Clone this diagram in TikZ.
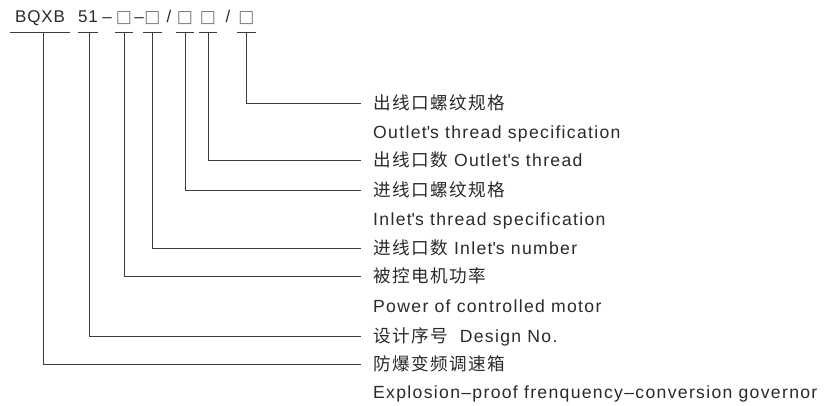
\documentclass[tikz,border=0pt]{standalone}
\usepackage{fontspec}
\setmainfont{Liberation Sans}[LetterSpace=7.5]
\newfontfamily\cjkfont{Noto Sans CJK SC}[LetterSpace=8]
\newfontfamily\codefont{Liberation Sans}[LetterSpace=5]
\newfontfamily\boxfont{DejaVu Sans}
\newcommand{\zh}[1]{{\cjkfont #1}}
\definecolor{ink}{HTML}{2A2A2A}
\definecolor{rulegray}{HTML}{3C3C3C}

\tikzset{
  part/.style={anchor=south, inner sep=0pt, minimum width=18pt, text height=11pt, text depth=9.5pt,
    font=\codefont\fontsize{17pt}{18pt}\selectfont, text=ink},
  boxpart/.style={part, font=\boxfont\fontsize{17pt}{18pt}\selectfont, text=black!55},
  sepmark/.style={anchor=base, inner sep=0pt, font=\codefont\fontsize{17pt}{18pt}\selectfont, text=ink},
  lab/.style={anchor=west, inner sep=0pt, text height=13pt, text depth=0pt,
    font=\fontsize{17.6pt}{20pt}\selectfont, text=ink},
  rule/.style={draw=rulegray, line width=0.9pt}
}

\begin{document}
\begin{tikzpicture}[x=1pt, y=-1pt]
  \useasboundingbox (0,0) rectangle (827,406);

  % Draw the type code
  \node[part, minimum width=60pt] (bqxb) at (40,32) {BQXB};
  \node[part] (d51) at (88,32) {51};
  \node[sepmark] (s1) at (107,22.5) {–};
  \node[boxpart] (b1) at (124,32) {□};
  \node[sepmark] (s2) at (139,22.5) {–};
  \node[boxpart] (b2) at (152.5,32) {□};
  \node[sepmark] (s3) at (169,22.5) {/};
  \node[boxpart] (b3) at (185,32) {□};
  \node[boxpart] (b4) at (208,32) {□};
  \node[sepmark] (s4) at (228,22.5) {/};
  \node[boxpart] (b5) at (246.5,32) {□};

  % Draw the underlines
  \draw[rule] (bqxb.south west) -- (bqxb.south east);
  \draw[rule] (d51.south west) -- (d51.south east);
  \draw[rule] (b1.south west) -- (b1.south east);
  \draw[rule] (b2.south west) -- (b2.south east);
  \draw[rule] (b3.south west) -- (b3.south east);
  \draw[rule] (b4.south west) -- (b4.south east);
  \draw[rule] (b5.south west) -- (b5.south east);

  % Draw the labels
  \node[lab] (l1) at (373,103) {\zh{出线口螺纹规格}};
  \node[lab] (l2) at (373,132) {Outlet\textquotesingle s thread specification};
  \node[lab] (l3) at (373,160) {\zh{出线口数} Outlet\textquotesingle s thread};
  \node[lab] (l4) at (373,190) {\zh{进线口螺纹规格}};
  \node[lab] (l5) at (373,219) {Inlet\textquotesingle s thread specification};
  \node[lab] (l6) at (373,248) {\zh{进线口数} Inlet\textquotesingle s number};
  \node[lab] (l7) at (373,276) {\zh{被控电机功率}};
  \node[lab] (l8) at (373,306) {Power of controlled motor};
  \node[lab] (l9) at (373,336) {\zh{设计序号}\hspace{12pt}Design No.};
  \node[lab] (l10) at (373,364) {\zh{防爆变频调速箱}};
  \node[lab] (l11) at (373,392) {Explosion–proof frenquency–conversion governor};

  % Draw the leaders
  \draw[rule] (b5.south) |- ([xshift=-12pt]l1.west);
  \draw[rule] (b4.south) |- ([xshift=-12pt]l3.west);
  \draw[rule] (b3.south) |- ([xshift=-12pt]l4.west);
  \draw[rule] (b2.south) |- ([xshift=-12pt]l6.west);
  \draw[rule] (b1.south) |- ([xshift=-12pt]l7.west);
  \draw[rule] ([xshift=1pt]d51.south) |- ([xshift=-12pt]l9.west);
  \draw[rule] ([xshift=3pt]bqxb.south) |- ([xshift=-12pt]l10.west);
\end{tikzpicture}
\end{document}
